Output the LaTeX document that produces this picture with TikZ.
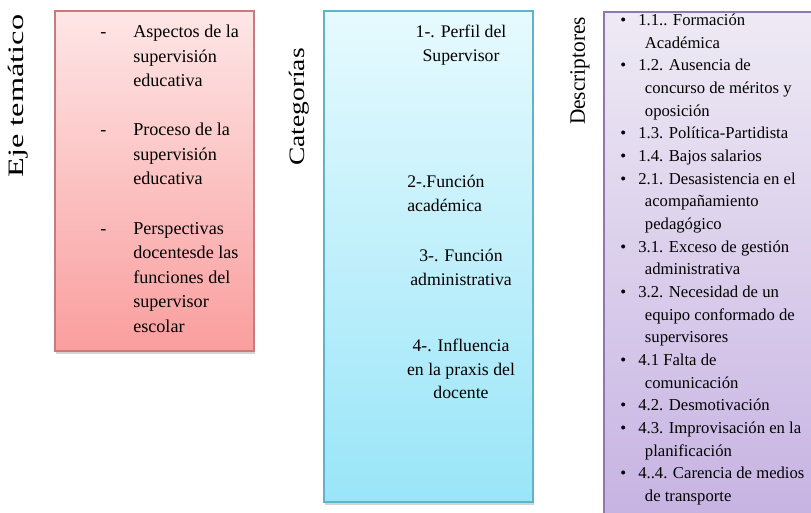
\documentclass[tikz,border=0pt]{standalone}
\usepackage{fontspec}
\setmainfont{Liberation Serif}
\usetikzlibrary{positioning, shadows}

\definecolor{redtop}{HTML}{FEE6E6}
\definecolor{redbot}{HTML}{FA9E9E}
\definecolor{redline}{HTML}{C97B7B}
\definecolor{cyantop}{HTML}{E6FAFE}
\definecolor{cyanbot}{HTML}{99E5F8}
\definecolor{cyanline}{HTML}{5FB4CB}
\definecolor{purpletop}{HTML}{EEEAF4}
\definecolor{purplebot}{HTML}{C6B2E2}
\definecolor{purpleline}{HTML}{8E78AE}

\begin{document}
\begin{tikzpicture}[
        x=0.75pt, y=-0.75pt,
        box/.style={draw, line width=1.2pt, inner sep=0,
            drop shadow={shadow xshift=0.5pt, shadow yshift=-2pt, opacity=0.35, fill=gray}},
        label/.style={rotate=90, inner sep=0, font=\fontsize{16.5}{19}\selectfont},
        txt/.style={inner sep=0}
        ]

        \useasboundingbox (0,0) rectangle (811,513);

        % Boxes
        \node[box, draw=redline, top color=redtop, bottom color=redbot,
            minimum width=149.25pt, minimum height=255pt] (Eje_box) at (154.5, 181) {};
        \node[box, draw=cyanline, top color=cyantop, bottom color=cyanbot,
            minimum width=156.75pt, minimum height=368.25pt] (Cat_box) at (428.5, 256.5) {};
        \node[box, draw=purpleline, top color=purpletop, bottom color=purplebot,
            minimum width=169.5pt, minimum height=384.75pt] (Desc_box) at (717, 268.5) {};

        % Labels
        \node[label] (Eje_label) at (18, 96) {\scalebox{1.47}[1]{Eje temático}};
        \node[label] (Cat_label) at (299, 107) {\scalebox{1.25}[1]{Categorías}};
        \node[label] (Desc_label) at (580, 71) {\scalebox{0.97}[1]{Descriptores}};

        % Eje tematico
        \node[txt, anchor=north west, font=\fontsize{13.6}{18.4}\selectfont] (Eje_items) at (100, 20.3) {%
            \begin{tabular}{@{}p{24.75pt}@{}l@{}}
                - & Aspectos de la\\
                  & supervisión\\
                  & educativa\\
                  & \\
                - & Proceso de la\\
                  & supervisión\\
                  & educativa\\
                  & \\
                - & Perspectivas\\
                  & docentesde las\\
                  & funciones del\\
                  & supervisor\\
                  & escolar
            \end{tabular}};

        % Categorias
        \node[txt, anchor=north, font=\fontsize{13.3}{17.8}\selectfont] (Cat_1) at (461, 20.5)
            {\begin{tabular}{@{}c@{}}1-. Perfil del\\ Supervisor\end{tabular}};
        \node[txt, anchor=north west, font=\fontsize{13.3}{17.8}\selectfont] (Cat_2) at (407, 170.4)
            {\begin{tabular}{@{}l@{}}2-.Función\\ académica\end{tabular}};
        \node[txt, anchor=north, font=\fontsize{13.3}{17.8}\selectfont] (Cat_3) at (461, 244.4)
            {\begin{tabular}{@{}c@{}}3-. Función\\ administrativa\end{tabular}};
        \node[txt, anchor=north, font=\fontsize{13.3}{17.8}\selectfont] (Cat_4) at (461, 334.4)
            {\begin{tabular}{@{}c@{}}4-. Influencia\\ en la praxis del\\ docente\end{tabular}};

        % Descriptores
        \node[txt, anchor=north west, font=\fontsize{12.5}{17}\selectfont] (Desc_items) at (620, 9.5) {%
            \begin{tabular}{@{}p{13.5pt}@{}l@{}}
                \textbullet & 1.1.. Formación\\
                            & \hspace{5pt}Académica\\
                \textbullet & 1.2. Ausencia de\\
                            & \hspace{5pt}concurso de méritos y\\
                            & \hspace{5pt}oposición\\
                \textbullet & 1.3. Política-Partidista\\
                \textbullet & 1.4. Bajos salarios\\
                \textbullet & 2.1. Desasistencia en el\\
                            & \hspace{5pt}acompañamiento\\
                            & \hspace{5pt}pedagógico\\
                \textbullet & 3.1. Exceso de gestión\\
                            & \hspace{5pt}administrativa\\
                \textbullet & 3.2. Necesidad de un\\
                            & \hspace{5pt}equipo conformado de\\
                            & \hspace{5pt}supervisores\\
                \textbullet & 4.1 Falta de\\
                            & \hspace{5pt}comunicación\\
                \textbullet & 4.2. Desmotivación\\
                \textbullet & 4.3. Improvisación en la\\
                            & \hspace{5pt}planificación\\
                \textbullet & 4..4. Carencia de medios\\
                            & \hspace{5pt}de transporte
            \end{tabular}};

    \end{tikzpicture}
\end{document}
